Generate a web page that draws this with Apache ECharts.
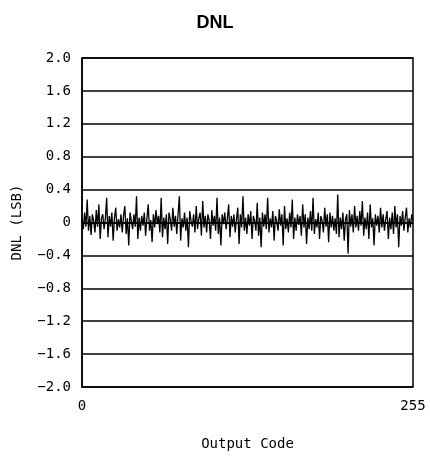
<!DOCTYPE html>
<html>
<head>
<meta charset="utf-8">
<script src="https://cdn.jsdelivr.net/npm/echarts@6/dist/echarts.min.js"></script>
<style>html,body{margin:0;padding:0;background:#fff}#c{width:430px;height:459px}</style>
</head>
<body>
<div id="c"></div>
<script>
const codes = Array.from({length:256},(_,i)=>i);
const dnl = [
0.05,-0.08,0.12,-0.05,0.28,-0.1,0.08,-0.15,0.1,0.02,-0.12,0.15,-0.05,0.22,-0.2,0.05,
0.1,-0.08,0.05,0.3,-0.18,0.08,-0.05,0.12,-0.22,0.06,0.18,-0.1,0.04,-0.06,0.1,-0.12,
0.08,0.2,-0.14,0.05,-0.28,0.12,0.02,-0.08,0.1,-0.05,0.32,-0.2,0.06,-0.1,0.08,-0.04,
0.12,-0.16,0.05,0.22,-0.1,0.03,-0.24,0.1,-0.06,0.15,-0.02,0.08,-0.12,0.3,-0.18,0.06,
-0.08,0.1,-0.26,0.12,0.04,-0.1,0.18,-0.05,0.08,-0.14,0.1,0.32,-0.22,0.05,-0.06,0.12,
-0.1,0.06,-0.3,0.14,0.02,-0.05,0.1,-0.12,0.2,-0.08,0.05,0.12,-0.16,0.26,-0.06,0.08,
-0.12,0.1,0.02,-0.2,0.15,-0.04,0.08,-0.1,0.3,-0.14,0.06,-0.28,0.1,-0.02,0.12,-0.08,
0.05,0.22,-0.18,0.08,-0.05,0.1,-0.12,0.04,0.18,-0.26,0.1,-0.06,0.32,-0.1,0.06,-0.14,
0.1,-0.04,0.14,-0.2,0.08,0.02,-0.1,0.24,-0.16,0.06,-0.3,0.12,-0.05,0.1,-0.08,0.3,
-0.12,0.05,-0.06,0.14,-0.22,0.08,0.02,-0.1,0.16,-0.04,0.1,-0.28,0.2,-0.08,0.05,-0.12,
0.12,-0.06,0.28,-0.2,0.06,-0.1,0.1,-0.03,0.08,-0.16,0.22,-0.06,0.1,-0.26,0.06,-0.08,
0.14,-0.1,0.3,-0.14,0.04,-0.06,0.12,-0.2,0.08,0.02,-0.12,0.18,-0.05,0.1,-0.24,0.12,
-0.06,0.08,-0.1,0.05,-0.14,0.34,-0.18,0.06,-0.08,0.12,-0.22,0.04,0.1,-0.38,0.15,-0.05,
0.1,-0.12,0.2,-0.06,0.08,-0.1,0.14,-0.04,0.26,-0.16,0.06,-0.08,0.12,-0.2,0.22,-0.06,
0.05,-0.28,0.1,-0.04,0.08,-0.12,0.18,-0.06,0.1,-0.1,0.04,0.14,-0.2,0.06,-0.08,0.12,
-0.14,0.2,-0.06,0.1,-0.3,0.08,-0.04,0.14,-0.1,0.06,0.18,-0.12,0.05,-0.06,0.1,0.02
];
const yTickValues = [-2.0,-1.6,-1.2,-0.8,-0.4,0,0.4,0.8,1.2,1.6,2.0];
const yTickLabels = ['\u22122.0','\u22121.6','\u22121.2','\u22120.8','\u22120.4','0','0.4','0.8','1.2','1.6','2.0'];
const xTickLabels = {0:'0',255:'255'};

const chart = echarts.init(document.getElementById('c'), null, {renderer:'canvas'});
const mono = 'DejaVu Sans Mono';
chart.setOption({
  animation:false,
  backgroundColor:'#fff',
  title:{text:'DNL',left:'center',top:9,textStyle:{fontFamily:'Liberation Sans',fontWeight:'bold',fontSize:18,color:'#000'}},
  grid:{left:82,right:17,top:58,bottom:72,show:true,borderColor:'#000',borderWidth:1.5,backgroundColor:'transparent'},
  xAxis:{type:'value',min:0,max:255,interval:255,
    name:'Output Code',nameLocation:'middle',nameGap:50,
    nameTextStyle:{fontFamily:mono,fontSize:14,color:'#000'},
    axisLine:{show:true,lineStyle:{color:'#000',width:1.5}},
    axisTick:{show:false},splitLine:{show:false},
    axisLabel:{margin:12,fontFamily:mono,fontSize:14,color:'#000',formatter:v=>xTickLabels[v]!==undefined?xTickLabels[v]:''}},
  yAxis:{type:'value',min:-2,max:2,interval:0.4,
    name:'DNL (LSB)',nameLocation:'middle',nameGap:58,nameRotate:90,
    nameTextStyle:{fontFamily:mono,fontSize:14,color:'#000'},
    axisLine:{show:true,lineStyle:{color:'#000',width:1.5}},
    axisTick:{show:false},
    splitLine:{show:true,lineStyle:{color:'#000',width:1.5}},
    axisLabel:{margin:11,fontFamily:mono,fontSize:14,color:'#000',formatter:v=>{
      const i=yTickValues.findIndex(t=>Math.abs(t-v)<1e-6);return i>=0?yTickLabels[i]:'';}}},
  series:[{type:'line',data:codes.map((c,i)=>[c,dnl[i]]),showSymbol:false,
    lineStyle:{color:'#000',width:1.3},z:3}]
});
</script>
</body>
</html>
